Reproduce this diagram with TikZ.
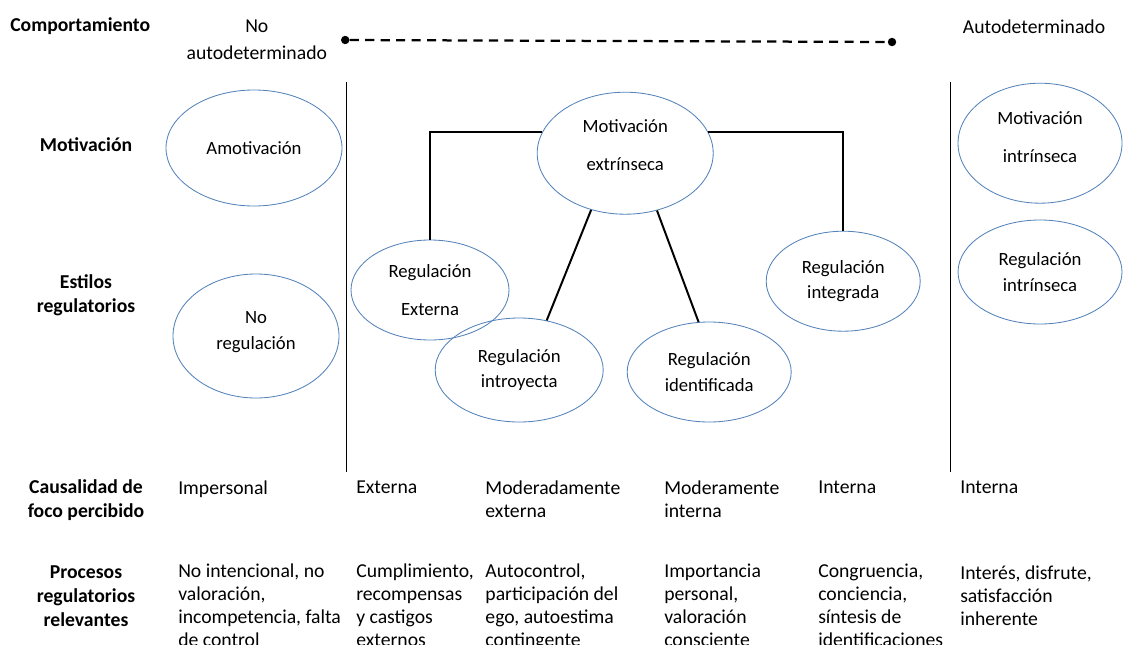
\documentclass[tikz,border=0pt]{standalone}
\usepackage{fontspec}
\setmainfont{Carlito}
\usepackage{xcolor}
\usetikzlibrary{shapes}
\definecolor{ovalblue}{RGB}{84,130,186}

\tikzset{
  oval/.style={ellipse, draw=ovalblue, line width=0.6pt, inner sep=0pt, align=center,
    font=\fontsize{13.3}{18}\selectfont},
  lift/.style={text depth=#1},
  rowlabel/.style={align=center, font=\bfseries\fontsize{14}{17}\selectfont},
  cell/.style={anchor=north west, align=left, inner sep=0pt,
    font=\fontsize{14}{16.2}\selectfont},
  link/.style={line width=1.4pt},
  endpoint/.style={circle, fill, inner sep=0pt, minimum size=6pt}
}

\begin{document}
\begin{tikzpicture}
	\useasboundingbox (0,0) rectangle (28.15,-16.1);
	%
	%  ROW LABELS
	%
	\node[rowlabel,anchor=west,inner sep=0pt] (L1) at (0.25,-0.66) {Comportamiento};
	\node[rowlabel] (L2) at (2.15,-3.62) {Motivación};
	\node[rowlabel] (L3) at (2.15,-7.37) {Estilos\\regulatorios};
	\node[rowlabel] (L4) at (2.15,-12.5) {Causalidad de\\foco percibido};
	\node[rowlabel] (L5) at (2.15,-14.9) {Procesos\\regulatorios\\relevantes};
	%
	%  BEHAVIOUR SCALE
	%
	\node[align=center,font=\fontsize{14}{19}\selectfont] (N) at (6.42,-1.0) {No\\autodeterminado};
	\node[font=\fontsize{14}{16}\selectfont] (Q) at (25.85,-0.66) {Autodeterminado};
	\node[endpoint] (P1) at (8.63,-1.0) {};
	\node[endpoint] (P2) at (22.3,-1.05) {};
	\draw[line width=1.6pt,dash pattern=on 6.5pt off 4.5pt] (P1) -- (P2);
	%
	%  SEPARATORS
	%
	\coordinate (S1) at (8.65,-2.05);
	\coordinate (S2) at (8.65,-11.8);
	\coordinate (S3) at (23.75,-2.05);
	\coordinate (S4) at (23.75,-11.8);
	\draw[line width=0.7pt] (S1) -- (S2);
	\draw[line width=0.7pt] (S3) -- (S4);
	%
	%  OVALS
	%
	\node[oval,minimum width=4.4cm,minimum height=2.9cm] (A) at (6.35,-3.7) {Amotivación};
	\node[oval,lift=8pt,minimum width=4.15cm,minimum height=3.1cm] (B) at (6.4,-8.4) {No\\regulación};
	\node[oval,lift=12pt,minimum width=4.4cm,minimum height=3.05cm] (C) at (15.63,-3.83) {Motivación\\[9pt]extrínseca};
	\node[oval,minimum width=3.95cm,minimum height=2.5cm] (D) at (10.75,-7.25) {Regulación\\[9pt]Externa};
	\node[oval,minimum width=4.2cm,minimum height=2.6cm] (E) at (12.98,-9.25) {Regulación\\introyecta};
	\node[oval,minimum width=4.1cm,minimum height=2.5cm] (F) at (17.73,-9.3) {Regulación\\identificada};
	\node[oval,minimum width=3.85cm,minimum height=2.5cm] (G) at (21.08,-7.03) {Regulación\\integrada};
	\node[oval,lift=9pt,minimum width=4.1cm,minimum height=3.0cm] (H) at (26.0,-3.58) {Motivación\\[9pt]intrínseca};
	\node[oval,minimum width=4.1cm,minimum height=2.6cm] (I) at (26.0,-6.8) {Regulación\\intrínseca};
	%
	%  LINKS
	%
	\draw[link] (C.166) -| (D.north);
	\draw[link] (C.14) -| (G.north);
	\draw[link] (C.239) -- (E.61);
	\draw[link] (C.299) -- (F.102);
	%
	%  CAUSALITY
	%
	\node[cell] (C1) at (4.45,-12.02) {Impersonal};
	\node[cell] (C2) at (8.9,-12.02) {Externa};
	\node[cell] (C3) at (12.13,-12.02) {Moderadamente\\externa};
	\node[cell] (C4) at (16.6,-12.02) {Moderamente\\interna};
	\node[cell] (C5) at (20.45,-12.02) {Interna};
	\node[cell] (C6) at (24.0,-12.02) {Interna};
	%
	%  PROCESSES
	%
	\node[cell] (R1) at (4.45,-14.1) {No intencional, no\\valoración,\\incompetencia, falta\\de control};
	\node[cell] (R2) at (8.9,-14.1) {Cumplimiento,\\recompensas\\y castigos\\externos};
	\node[cell] (R3) at (12.13,-14.1) {Autocontrol,\\participación del\\ego, autoestima\\contingente};
	\node[cell] (R4) at (16.6,-14.1) {Importancia\\personal,\\valoración\\consciente};
	\node[cell] (R5) at (20.45,-14.1) {Congruencia,\\conciencia,\\síntesis de\\identificaciones};
	\node[cell] (R6) at (24.0,-14.15) {Interés, disfrute,\\satisfacción\\inherente};
\end{tikzpicture}
\end{document}
